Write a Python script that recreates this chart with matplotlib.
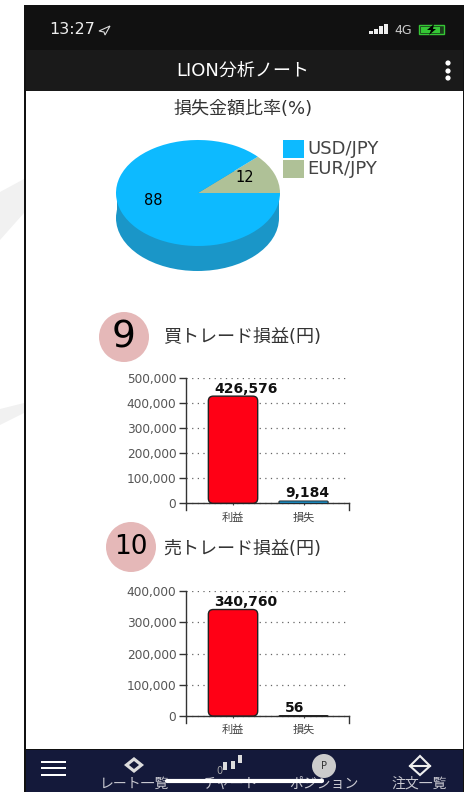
import matplotlib
matplotlib.use("Agg")
from matplotlib import pyplot as plt
from matplotlib.patches import Rectangle, Ellipse, Circle, Polygon, FancyBboxPatch

plt.rcParams['font.family'] = ['DejaVu Sans', 'Noto Sans CJK JP']

W, H = 467, 792

pie_labels = ['EUR/JPY', 'USD/JPY']
pie_values = [12, 88]
pie_colors = ['#afc197', '#0dbaff']

bar_cats = ['利益', '損失']
buy_values = [426576, 9184]
sell_values = [340760, 56]
buy_ticks = [0, 100000, 200000, 300000, 400000, 500000]
sell_ticks = [0, 100000, 200000, 300000, 400000]
nav_labels = ['レート一覧', 'チャート', 'ポジション', '注文一覧']
nav_x = [135, 231, 324, 419]

fig = plt.figure(figsize=(W/100, H/100), dpi=100, facecolor='white')

# whole figure in pixels, for the phone screen around the charts
bg = fig.add_axes([0, 0, 1, 1])
bg.set_xlim(0, W)
bg.set_ylim(H, 0)
bg.axis('off')


def box(x0, y0, x1, y1, color, z=1):
    bg.add_patch(Rectangle((x0, y0), x1-x0, y1-y0, fc=color, ec='none', zorder=z))


# watermark on the left
bg.add_patch(Polygon([[0, 192], [24, 179], [24, 213], [0, 240]], fc='#f1f1f1', ec='none'))
bg.add_patch(Polygon([[0, 409], [24, 403], [24, 413], [0, 425]], fc='#f1f1f1', ec='none'))

box(24, 5, 464, 792, '#111111')
box(25.5, 91, 462.5, 749, 'white', 2)
box(25.5, 50, 462.5, 91, '#1a1a1a', 2)
box(25.5, 750, 462.5, 792, '#14193a', 2)

# status bar
bg.text(49, 29.5, '13:27', color='#eeeeee', fontsize=11.5, va='center', zorder=5)
bg.add_patch(Polygon([[110, 26], [99, 31], [104, 32], [105, 35]], fc='none', ec='#dddddd', lw=0.8, zorder=5))
for x, h in zip([369, 374, 379, 384], [3, 5, 8, 10]):
    box(x, 34-h, x+3.6, 34, '#eeeeee', 5)
bg.text(394, 30, '4G', color='#cccccc', fontsize=9, va='center', zorder=5)
bg.add_patch(Rectangle((419, 25), 25, 9, fc='#1c3d1c', ec='#35c735', lw=1, zorder=5))
bg.add_patch(Rectangle((421, 26.5), 19, 6, fc='#35c735', ec='none', zorder=5))
bg.add_patch(Polygon([[434, 24], [427, 30], [431, 30], [429, 35], [436, 29], [433, 29]], fc='black', ec='none', zorder=6))

# title bar
bg.text(243, 71, 'LION分析ノート', color='white', fontsize=13, ha='center', va='center', zorder=5)
for y in [63, 71, 78]:
    bg.add_patch(Circle((448, y), 2.6, fc='white', ec='none', zorder=5))

bg.text(243, 109, '損失金額比率(%)', color='#333333', fontsize=13, ha='center', va='center', zorder=5)

# depth of the pie
bg.add_patch(Ellipse((197.5, 218), 163, 106, fc='#1a96c8', ec='none', zorder=3))
box(116.5, 193, 278.5, 218, '#1a96c8', 3)

pie_ax = fig.add_axes([116/W, 1-246/H, 164/W, 106/H])
wedges, _ = pie_ax.pie(pie_values, colors=pie_colors, startangle=0, radius=1)
pie_ax.set_xlim(-1, 1)
pie_ax.set_ylim(-1, 1)
pie_ax.set_aspect('auto')
pie_ax.patch.set_alpha(0)
pie_ax.text(0.575, 0.30, str(pie_values[0]), fontsize=10.5, ha='center', va='center')
pie_ax.text(-0.55, -0.14, str(pie_values[1]), fontsize=10.5, ha='center', va='center')

# legend
for y, lab, col in zip([140, 160], pie_labels[::-1], pie_colors[::-1]):
    box(283, y, 304, y+17.5, col, 5)
    bg.text(307, y+9, lab, color='#444444', fontsize=13, va='center', zorder=5)

# numbered circles and headings
for (cx, cy), num, size in zip([(124, 337), (131, 547)], ['9', '10'], [27, 19]):
    bg.add_patch(Circle((cx, cy), 25, fc='#e5b8b8', ec='none', zorder=5))
    bg.text(cx, cy+0.5, num, color='black', fontsize=size, ha='center', va='center', zorder=6)
bg.text(163, 337.5, '買トレード損益(円)', color='#333333', fontsize=13, va='center', zorder=5)
bg.text(163, 549.5, '売トレード損益(円)', color='#333333', fontsize=13, va='center', zorder=5)


def bar_chart(top, zero, values, ticks, colors):
    bottom = zero + 7
    ax = fig.add_axes([186/W, 1-bottom/H, 163/W, (bottom-top)/H])
    per_px = ticks[-1]/(zero-top)
    ax.patch.set_alpha(0)
    ax.spines['top'].set_visible(False)
    # moving a spine resets its ticks, so this goes before the tick styling
    ax.spines['bottom'].set_position(('data', 0))
    ax.spines['right'].set_bounds(-7*per_px, 0)
    for s in ['left', 'bottom', 'right']:
        ax.spines[s].set_color('#333333')
        ax.spines[s].set_linewidth(1)
    ax.set_xlim(-0.667, 1.645)
    ax.set_ylim(-7*per_px, ticks[-1])
    ax.set_yticks(ticks)
    ax.set_yticklabels([f'{t:,}' for t in ticks], color='#555555', fontsize=8.7)
    ax.set_xticks([0, 1])
    ax.set_xticklabels(bar_cats, color='#444444', fontsize=8)
    ax.tick_params(axis='y', length=5, width=1, color='#333333', pad=2)
    ax.tick_params(axis='x', length=1.5, width=0.8, color='#444444', pad=5)
    ax.grid(axis='y', color='#666666', ls=(0, (1, 3.5)), lw=0.9)
    ax.set_axisbelow(True)
    bars = ax.bar([0, 1], values, width=0.7, color=colors)
    # swap the square bars for rounded ones of the same size
    for r, c, v in zip(bars, colors, values):
        r.set_visible(False)
        rad = min(0.07, v/per_px/70.5/2)
        ax.add_patch(FancyBboxPatch((r.get_x(), 0), r.get_width(), v,
                                    boxstyle=f'round,pad=0,rounding_size={rad}',
                                    mutation_aspect=70.5*per_px,
                                    fc=c, ec='#222222', lw=1 if v/per_px > 10 else 0.7, zorder=3))
        # the labels start a little inside the left edge of the bar
        ax.text(r.get_x()+0.085, v+0.5*per_px, f'{v:,}', fontsize=10, fontweight='bold',
                ha='left', va='bottom', color='#111111', zorder=4)
    return ax


bar_chart(377.7, 503.3, buy_values, buy_ticks, ['#ff0015', '#1b9ddb'])
bar_chart(591, 716, sell_values, sell_ticks, ['#ff0015', '#1b9ddb'])

# bottom navigation
for y in [762, 768, 775]:
    box(41, y-0.8, 66, y+0.8, 'white', 5)
for x, lab in zip(nav_x, nav_labels):
    bg.text(x, 784, lab, color='#c8c8d0', fontsize=10, ha='center', va='center', zorder=5)
bg.add_patch(Polygon([[134, 757], [144, 765], [134, 773], [124, 765]], fc='#dddddd', ec='none', zorder=5))
bg.add_patch(Polygon([[134, 761], [139, 765], [134, 769], [129, 765]], fc='#14193a', ec='none', zorder=6))
for x, y in zip([225, 233, 240], [766, 765, 759]):
    box(x-2, y-4, x+2, y+4, '#dddddd', 5)
bg.text(219, 771, '0', color='#aaaaaa', fontsize=7, ha='center', va='center', zorder=5)
bg.add_patch(Circle((324, 766), 12, fc='#cccccc', ec='none', zorder=5))
bg.text(324, 766, 'P', color='#333333', fontsize=7, ha='center', va='center', zorder=6)
bg.add_patch(Polygon([[420, 756], [430, 766], [420, 775], [410, 766]], fc='none', ec='#eeeeee', lw=1.5, zorder=5))
bg.plot([410, 430], [766, 766], color='#eeeeee', lw=1.5, zorder=5)
bg.plot([167, 322], [781, 781], color='white', lw=3, solid_capstyle='round', zorder=7)

fig.savefig('out.png', dpi=100)
